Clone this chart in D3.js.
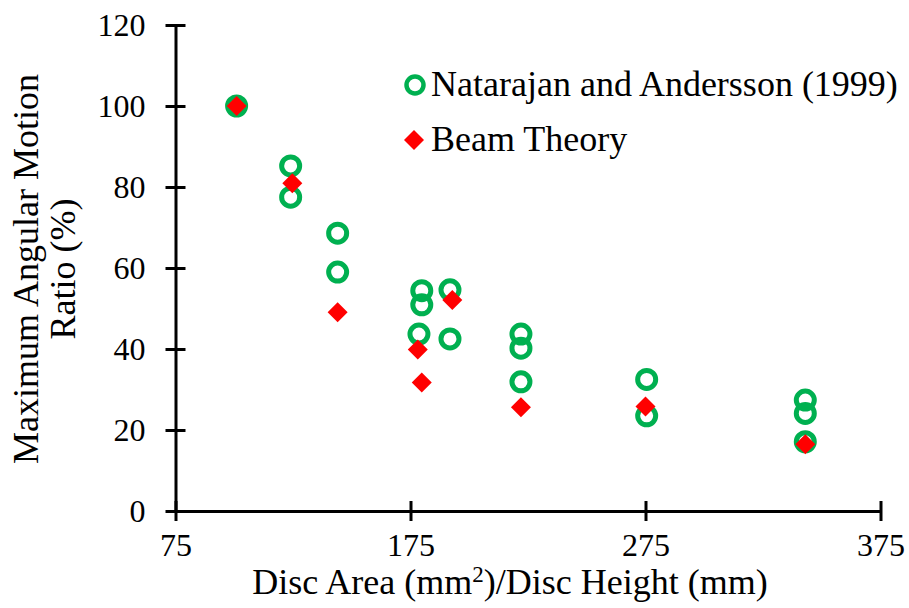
<!DOCTYPE html>
<html>
<head>
<meta charset="utf-8">
<script src="https://cdn.jsdelivr.net/npm/d3@7"></script>
<style>
  html, body { margin: 0; padding: 0; background: #fff; }
  svg { display: block; font-family: "Liberation Serif", "Times New Roman", serif; }
</style>
</head>
<body>
<svg id="chart" width="909" height="608"></svg>
<script>
// Natarajan and Andersson (1999) measurements
const natX = [101, 124, 124, 144, 144, 179.8, 179.8, 178.6, 191.8, 191.8, 222, 222, 222, 275.5, 275.5, 343, 343, 343];
const natY = [100, 85.2, 77.5, 68.6, 59.0, 54.4, 50.9, 43.7, 54.6, 42.5, 43.7, 40.2, 31.9, 32.5, 23.5, 27.4, 24.1, 17.1];
// Beam theory predictions
const beamX = [101, 124.7, 144, 178.1, 179.8, 192.8, 222, 275, 343];
const beamY = [100, 80.9, 49.1, 39.9, 31.7, 52.1, 25.6, 25.8, 16.5];

const xTicks = [75, 175, 275, 375];
const yTicks = [0, 20, 40, 60, 80, 100, 120];
const seriesNames = ["Natarajan and Andersson (1999)", "Beam Theory"];

const svg = d3.select("#chart");
const tickFont = 32;
const titleFont = 36;

const x = d3.scaleLinear().domain([75, 375]).range([175.5, 880.5]);
const y = d3.scaleLinear().domain([0, 120]).range([511, 25]);

// Axes with ticks crossing the axis line
const xAxis = svg.append("g")
  .attr("transform", `translate(0,${y(0)})`)
  .call(d3.axisBottom(x).tickValues(xTicks).tickFormat(d3.format("d")).tickSize(10).tickSizeOuter(0).tickPadding(12));
xAxis.selectAll(".tick line").attr("y1", -10).attr("y2", 10);

const yAxis = svg.append("g")
  .attr("transform", `translate(${x(75)},0)`)
  .call(d3.axisLeft(y).tickValues(yTicks).tickFormat(d3.format("d")).tickSize(10).tickSizeOuter(0).tickPadding(20));
yAxis.selectAll(".tick line").attr("x1", 10).attr("x2", -10);

[xAxis, yAxis].forEach(g => {
  g.select(".domain").attr("stroke", "#000").attr("stroke-width", 3);
  g.selectAll(".tick line").attr("stroke", "#000").attr("stroke-width", 3);
  g.selectAll(".tick text").attr("fill", "#000")
    .style("font-family", '"Liberation Serif", serif').style("font-size", tickFont + "px");
});

// Axis titles
svg.append("text")
  .attr("x", 510).attr("y", 594)
  .attr("text-anchor", "middle")
  .style("font-size", titleFont + "px")
  .call(t => {
    t.append("tspan").text("Disc Area (mm");
    t.append("tspan").text("2").attr("baseline-shift", "super").style("font-size", "23px");
    t.append("tspan").text(")/Disc Height (mm)");
  });

const yTitle = svg.append("text")
  .attr("transform", "translate(0,269) rotate(-90)")
  .attr("text-anchor", "middle")
  .style("font-size", titleFont + "px");
yTitle.append("tspan").attr("x", 0).attr("y", 38).text("Maximum Angular Motion");
yTitle.append("tspan").attr("x", 0).attr("y", 75).text("Ratio (%)");

const green = "#00B050", red = "#FF0000";
const diamond = d3.symbol().type(d3.symbolSquare).size(200);

// Measured points: open rings
svg.append("g").selectAll("circle")
  .data(d3.range(natX.length))
  .join("circle")
  .attr("cx", i => x(natX[i]))
  .attr("cy", i => y(natY[i]))
  .attr("r", 9)
  .attr("fill", "none")
  .attr("stroke", green)
  .attr("stroke-width", 5);

// Beam theory: filled diamonds
svg.append("g").selectAll("path")
  .data(d3.range(beamX.length))
  .join("path")
  .attr("d", diamond)
  .attr("transform", i => `translate(${x(beamX[i])},${y(beamY[i])}) rotate(45)`)
  .attr("fill", red);

// Legend
const legend = svg.append("g");
legend.append("circle").attr("cx", 415).attr("cy", 85).attr("r", 8.5)
  .attr("fill", "none").attr("stroke", green).attr("stroke-width", 4.5);
legend.append("path").attr("d", diamond)
  .attr("transform", "translate(414,140) rotate(45)").attr("fill", red);
legend.selectAll("text.lg")
  .data(seriesNames)
  .join("text")
  .attr("class", "lg")
  .attr("x", 431)
  .attr("y", (d, i) => 96 + i * 55)
  .style("font-size", titleFont + "px")
  .attr("fill", "#000")
  .text(d => d);
</script>
</body>
</html>
